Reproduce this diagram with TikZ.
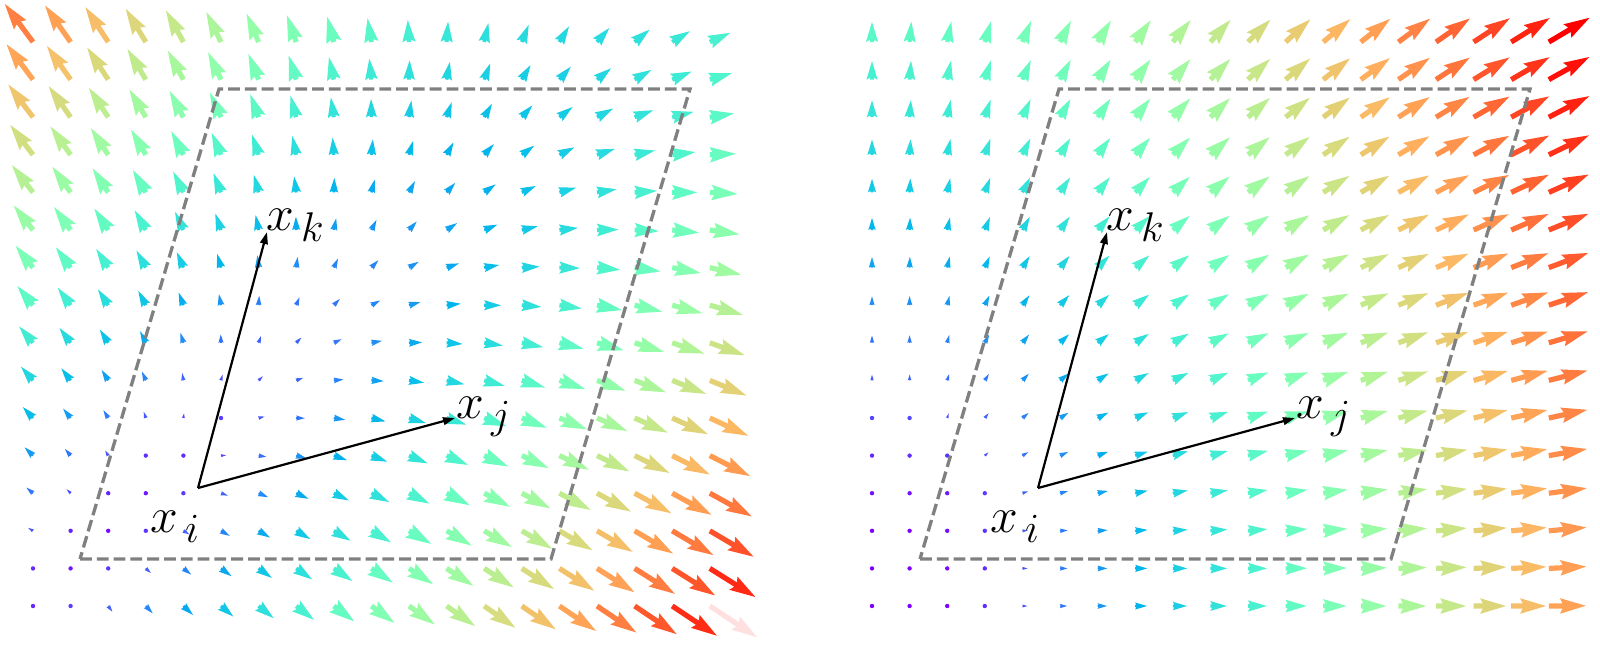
\documentclass[tikz,border=0pt]{standalone}
\usetikzlibrary{arrows.meta}
% quiver arrow, shaft width 5.2 px, matplotlib proportions
\newcommand{\QArrow}[1]{%
  \pgfmathsetmacro{\QL}{sqrt(\QU*\QU+\QW*\QW)}%
  \pgfmathsetmacro{\QT}{min(1,\QL/#1)}%
  \pgfmathsetmacro{\QR}{min(1,abs(2*\QT-0.5))}%
  \pgfmathsetmacro{\QG}{max(0,min(1,sin(180*\QT)))}%
  \pgfmathsetmacro{\QB}{max(0,min(1,cos(90*\QT)))}%
  \definecolor{qcol}{rgb}{\QR,\QG,\QB}%
  \ifdim\QL pt<4.5pt\relax
    \fill[qcol] (\QX,\QY) circle[radius=2.2];%
  \else
    \pgfmathsetmacro{\QA}{atan2(\QW,\QU)}%
    \pgfmathsetmacro{\QS}{min(1,\QL/26)}%
    \pgfmathsetmacro{\QH}{2.6*\QS}%
    \pgfmathsetmacro{\QHB}{7.8*\QS}%
    \pgfmathsetmacro{\QN}{\QL-23.4*\QS}%
    \pgfmathsetmacro{\QK}{\QL-26*\QS}%
    \fill[qcol,qextra,shift={(\QX,\QY)},rotate=\QA] (0,\QH) -- (\QN,\QH) -- (\QK,\QHB) -- (\QL,0) -- (\QK,-\QHB) -- (\QN,-\QH) -- (0,-\QH) -- cycle;%
  \fi
}
\tikzset{
  qextra/.style={},
  parallel/.style={draw=black!50, line width=1.65pt, dash pattern=on 5.9pt off 2.5pt},
  basisvec/.style={draw=black, line width=1.1pt, -{Triangle[length=6pt,width=3.8pt]}},
  ptlabel/.style={anchor=base west, inner sep=0pt, font=\fontsize{28}{32}\selectfont}
}
\begin{document}
\begin{tikzpicture}[x=0.5pt,y=-0.5pt]
\useasboundingbox (0,0) rectangle (1600,644);
% left field
\foreach \c in {0,...,18}{%
  \foreach \r in {0,...,15}{%
    \pgfmathsetmacro{\QU}{-1.2+2.7*\c-1.8*\r}%
    \pgfmathsetmacro{\QW}{-2.5-1.6*\c+2.7*\r}%
    \pgfmathsetmacro{\QX}{33+37.6*\c}%
    \pgfmathsetmacro{\QY}{606-37.6*\r}%
    \ifnum\c=18 \ifnum\r=0
      \tikzset{qextra/.style={fill=red,opacity=0.12}}%
    \fi\fi
    \QArrow{56.8}%
  }%
}
% right field
\foreach \c in {0,...,18}{%
  \foreach \r in {0,...,15}{%
    \pgfmathsetmacro{\QU}{max(0,2.3*\c+0.25*\r-4.3)}%
    \pgfmathsetmacro{\QW}{max(0,1.6*\r+0.23*\c-3.9)}%
    \pgfmathsetmacro{\QX}{872+37.6*\c}%
    \pgfmathsetmacro{\QY}{606-37.6*\r}%
    \QArrow{47.5}%
  }%
}
% parallelograms
\coordinate (LA) at (80,559);
\coordinate (LB) at (551,559);
\coordinate (LC) at (690,89);
\coordinate (LD) at (219,89);
\coordinate (RA) at (920,559);
\coordinate (RB) at (1391,559);
\coordinate (RC) at (1530,89);
\coordinate (RD) at (1059,89);
\draw[parallel] (LA) -- (LB) -- (LC) -- (LD) -- cycle;
\draw[parallel] (RA) -- (RB) -- (RC) -- (RD) -- cycle;
% basis vectors
\coordinate (Li) at (198,488);
\coordinate (Lj) at (455,418);
\coordinate (Lk) at (267,232);
\coordinate (Ri) at (1038,488);
\coordinate (Rj) at (1295,418);
\coordinate (Rk) at (1107,232);
\draw[basisvec] (Li) -- (Lj);
\draw[basisvec] (Li) -- (Lk);
\draw[basisvec] (Ri) -- (Rj);
\draw[basisvec] (Ri) -- (Rk);
% labels
\node[ptlabel] (lxi) at (150,532) {$x_{\mkern3mu i}$};
\node[ptlabel] (lxj) at (456,418) {$x_{\mkern3mu j}$};
\node[ptlabel] (lxk) at (266,230) {$x_{\mkern3mu k}$};
\node[ptlabel] (rxi) at (990,532) {$x_{\mkern3mu i}$};
\node[ptlabel] (rxj) at (1296,418) {$x_{\mkern3mu j}$};
\node[ptlabel] (rxk) at (1106,230) {$x_{\mkern3mu k}$};
\end{tikzpicture}
\end{document}
